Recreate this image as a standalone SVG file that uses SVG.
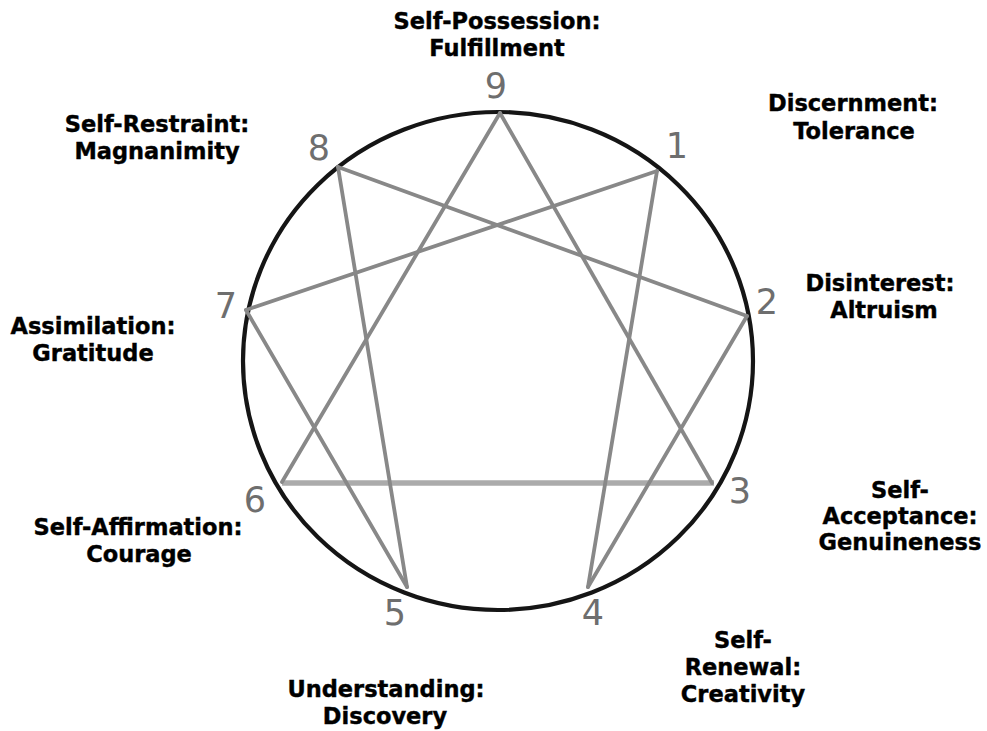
<svg xmlns="http://www.w3.org/2000/svg" width="987" height="731" viewBox="0 0 987 731">
<style>
.lbl{font-family:"DejaVu Sans",Verdana,sans-serif;font-weight:bold;font-size:22.5px;fill:#000;stroke:#000;stroke-width:0.4;text-anchor:middle}
.num{font-family:"DejaVu Sans",Verdana,sans-serif;font-size:35px;fill:#6e6e6e;text-anchor:middle}
.ln{stroke:#888;stroke-width:3.8;fill:none;stroke-linecap:round}
.tri{stroke:#ababab;stroke-width:5.5;fill:none}
</style>
<rect width="987" height="731" fill="#fff"/>
<ellipse id="circle" cx="498" cy="361" rx="255" ry="249" fill="none" stroke="#151515" stroke-width="4.2"/>
<g id="connectors">
<line class="tri" x1="282" y1="483" x2="714" y2="483"/>
<line class="ln" x1="500" y1="113" x2="712" y2="483"/>
<line class="ln" x1="500" y1="113" x2="282" y2="482"/>
<line class="ln" x1="657" y1="171" x2="588" y2="587"/>
<line class="ln" x1="588" y1="587" x2="747" y2="316"/>
<line class="ln" x1="747" y1="316" x2="338" y2="167"/>
<line class="ln" x1="338" y1="167" x2="407" y2="587"/>
<line class="ln" x1="407" y1="587" x2="246" y2="310"/>
<line class="ln" x1="246" y1="310" x2="657" y2="171"/>
</g>
<g id="node9"><text class="num" x="496" y="98">9</text><text class="lbl" x="497" y="29">Self-Possession:</text><text class="lbl" x="497" y="56">Fulfillment</text></g>
<g id="node1"><text class="num" x="677" y="158">1</text><text class="lbl" x="853" y="111">Discernment:</text><text class="lbl" x="854" y="139">Tolerance</text></g>
<g id="node2"><text class="num" x="767" y="314">2</text><text class="lbl" x="880" y="291">Disinterest:</text><text class="lbl" x="884" y="318">Altruism</text></g>
<g id="node3"><text class="num" x="740" y="503">3</text><text class="lbl" x="900" y="498">Self-</text><text class="lbl" x="900" y="524">Acceptance:</text><text class="lbl" x="900" y="550">Genuineness</text></g>
<g id="node4"><text class="num" x="593" y="625">4</text><text class="lbl" x="743" y="648">Self-</text><text class="lbl" x="743" y="675">Renewal:</text><text class="lbl" x="743" y="702">Creativity</text></g>
<g id="node5"><text class="num" x="395" y="625">5</text><text class="lbl" x="386" y="697">Understanding:</text><text class="lbl" x="385" y="724">Discovery</text></g>
<g id="node6"><text class="num" x="255" y="512">6</text><text class="lbl" x="138" y="535">Self-Affirmation:</text><text class="lbl" x="139" y="562">Courage</text></g>
<g id="node7"><text class="num" x="226" y="318">7</text><text class="lbl" x="93" y="334">Assimilation:</text><text class="lbl" x="93" y="361">Gratitude</text></g>
<g id="node8"><text class="num" x="319" y="160">8</text><text class="lbl" x="157" y="132">Self-Restraint:</text><text class="lbl" x="157" y="159">Magnanimity</text></g>
</svg>
